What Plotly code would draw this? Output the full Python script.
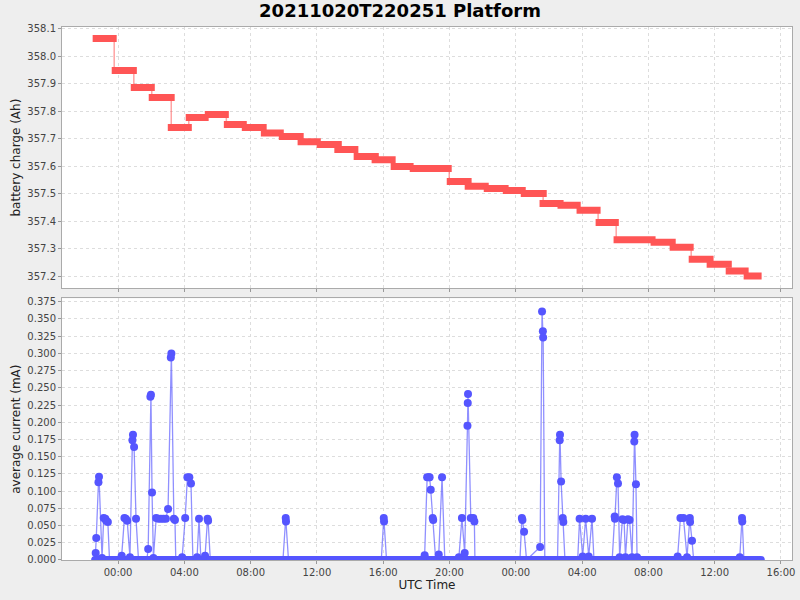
import pandas as pd
import plotly.graph_objects as go
from plotly.subplots import make_subplots

# battery charge levels (each level held between start and end)
charge_start = ["2021-10-20 22:28", "2021-10-20 23:37", "2021-10-21 00:46", "2021-10-21 01:51",
                "2021-10-21 03:00", "2021-10-21 04:05", "2021-10-21 05:14", "2021-10-21 06:23",
                "2021-10-21 07:28", "2021-10-21 08:37", "2021-10-21 09:42", "2021-10-21 10:50",
                "2021-10-21 11:59", "2021-10-21 13:03", "2021-10-21 14:13", "2021-10-21 15:18",
                "2021-10-21 16:27", "2021-10-21 17:36", "2021-10-21 19:50", "2021-10-21 20:55",
                "2021-10-21 22:04", "2021-10-21 23:13", "2021-10-22 00:18", "2021-10-22 01:26",
                "2021-10-22 02:31", "2021-10-22 03:40", "2021-10-22 04:49", "2021-10-22 05:54",
                "2021-10-22 08:08", "2021-10-22 09:17", "2021-10-22 10:26", "2021-10-22 11:31",
                "2021-10-22 12:40", "2021-10-22 13:45"]
charge_end = ["2021-10-20 23:55", "2021-10-21 01:08", "2021-10-21 02:13", "2021-10-21 03:25",
              "2021-10-21 04:27", "2021-10-21 05:28", "2021-10-21 06:41", "2021-10-21 07:46",
              "2021-10-21 08:58", "2021-10-21 10:00", "2021-10-21 11:12", "2021-10-21 12:14",
              "2021-10-21 13:30", "2021-10-21 14:30", "2021-10-21 15:44", "2021-10-21 16:45",
              "2021-10-21 17:50", "2021-10-21 20:08", "2021-10-21 21:20", "2021-10-21 22:22",
              "2021-10-21 23:34", "2021-10-22 00:36", "2021-10-22 01:52", "2021-10-22 02:53",
              "2021-10-22 03:55", "2021-10-22 05:07", "2021-10-22 06:13", "2021-10-22 08:26",
              "2021-10-22 09:39", "2021-10-22 10:44", "2021-10-22 11:56", "2021-10-22 13:02",
              "2021-10-22 14:03", "2021-10-22 14:50"]
charge_ah = [358.064, 357.948, 357.886, 357.850, 357.741, 357.777, 357.788, 357.752,
             357.741, 357.721, 357.708, 357.689, 357.679, 357.661, 357.635, 357.624,
             357.599, 357.592, 357.545, 357.527, 357.519, 357.512, 357.501, 357.465,
             357.458, 357.440, 357.396, 357.333, 357.324, 357.306, 357.262, 357.244,
             357.219, 357.201]

# average current samples
current_time = [
    "2021-10-20 22:37", "2021-10-20 22:39", "2021-10-20 22:41", "2021-10-20 22:49", "2021-10-20 22:51",
    "2021-10-20 23:02", "2021-10-20 23:08", "2021-10-20 23:14", "2021-10-20 23:17", "2021-10-20 23:23",
    "2021-10-20 23:29",
    "2021-10-21 00:10", "2021-10-21 00:13", "2021-10-21 00:23", "2021-10-21 00:28", "2021-10-21 00:33",
    "2021-10-21 00:43", "2021-10-21 00:52", "2021-10-21 00:54", "2021-10-21 00:58", "2021-10-21 01:05",
    "2021-10-21 01:14", "2021-10-21 01:44", "2021-10-21 01:49", "2021-10-21 01:57", "2021-10-21 01:59",
    "2021-10-21 02:03", "2021-10-21 02:08", "2021-10-21 02:18", "2021-10-21 02:26", "2021-10-21 02:35",
    "2021-10-21 02:44", "2021-10-21 02:53", "2021-10-21 03:01", "2021-10-21 03:11", "2021-10-21 03:13",
    "2021-10-21 03:22", "2021-10-21 03:26", "2021-10-21 03:29", "2021-10-21 03:52", "2021-10-21 04:03",
    "2021-10-21 04:11", "2021-10-21 04:18", "2021-10-21 04:24", "2021-10-21 04:31", "2021-10-21 04:46",
    "2021-10-21 04:53", "2021-10-21 05:00", "2021-10-21 05:15", "2021-10-21 05:24", "2021-10-21 05:26",
    "2021-10-21 05:34", "2021-10-21 09:57", "2021-10-21 10:07", "2021-10-21 10:08", "2021-10-21 10:17",
    "2021-10-21 15:53", "2021-10-21 16:02", "2021-10-21 16:03", "2021-10-21 16:12", "2021-10-21 18:23",
    "2021-10-21 18:30", "2021-10-21 18:39", "2021-10-21 18:45", "2021-10-21 18:48", "2021-10-21 18:52",
    "2021-10-21 18:59", "2021-10-21 19:01", "2021-10-21 19:10", "2021-10-21 19:21", "2021-10-21 19:33",
    "2021-10-21 19:43", "2021-10-21 20:34", "2021-10-21 20:45", "2021-10-21 20:55", "2021-10-21 21:05",
    "2021-10-21 21:06", "2021-10-21 21:07", "2021-10-21 21:17", "2021-10-21 21:26", "2021-10-21 21:30",
    "2021-10-21 21:32",
    "2021-10-22 00:15", "2021-10-22 00:22", "2021-10-22 00:24", "2021-10-22 00:30", "2021-10-22 00:39",
    "2021-10-22 01:28", "2021-10-22 01:35", "2021-10-22 01:38", "2021-10-22 01:39", "2021-10-22 01:45",
    "2021-10-22 02:31", "2021-10-22 02:39", "2021-10-22 02:40", "2021-10-22 02:44", "2021-10-22 02:50",
    "2021-10-22 02:52", "2021-10-22 02:58", "2021-10-22 03:44", "2021-10-22 03:51", "2021-10-22 04:02",
    "2021-10-22 04:13", "2021-10-22 04:24", "2021-10-22 04:36", "2021-10-22 04:43", "2021-10-22 05:49",
    "2021-10-22 05:58", "2021-10-22 05:59", "2021-10-22 06:06", "2021-10-22 06:10", "2021-10-22 06:16",
    "2021-10-22 06:26", "2021-10-22 06:32", "2021-10-22 06:37", "2021-10-22 06:46", "2021-10-22 06:52",
    "2021-10-22 07:01", "2021-10-22 07:09", "2021-10-22 07:10", "2021-10-22 07:15", "2021-10-22 07:19",
    "2021-10-22 09:39", "2021-10-22 09:46", "2021-10-22 09:56", "2021-10-22 10:07", "2021-10-22 10:20",
    "2021-10-22 10:30", "2021-10-22 10:31", "2021-10-22 10:38", "2021-10-22 10:44", "2021-10-22 13:31",
    "2021-10-22 13:39", "2021-10-22 13:40", "2021-10-22 13:46", "2021-10-22 14:47"]
current_ma = [
    0, 0.010, 0.032, 0.113, 0.121,
    0.003, 0.061, 0.060, 0.057, 0.055,
    0,
    0, 0.006, 0.061, 0.060, 0.057,
    0.004, 0.174, 0.182, 0.164, 0.060,
    0, 0, 0.016, 0.237, 0.240,
    0.098, 0.003, 0.061, 0.060, 0.060,
    0.060, 0.060, 0.074, 0.294, 0.300,
    0.060, 0.058, 0, 0.004, 0.061,
    0.120, 0.120, 0.111, 0, 0.004,
    0.060, 0, 0.006, 0.060, 0.057,
    0, 0, 0.061, 0.056, 0,
    0, 0.061, 0.056, 0, 0,
    0.007, 0.120, 0.120, 0.120, 0.102,
    0.061, 0.058, 0, 0.008, 0.120,
    0, 0.004, 0.061, 0.010, 0.195,
    0.228, 0.241, 0.061, 0.061, 0.056,
    0,
    0, 0.061, 0.058, 0.041, 0,
    0.019, 0.361, 0.332, 0.323, 0,
    0, 0.174, 0.182, 0.114, 0.061,
    0.055, 0, 0, 0.060, 0.005,
    0.060, 0.005, 0.060, 0, 0,
    0.063, 0.060, 0.120, 0.111, 0.004,
    0.059, 0.058, 0.004, 0.059, 0.058,
    0.004, 0.172, 0.182, 0.110, 0.004,
    0, 0.005, 0.061, 0.061, 0.004,
    0.061, 0.055, 0.028, 0, 0.004,
    0.061, 0.056, 0, 0]

RED = "#ff5555"
BLUE = "#5555ff"
FONT = "DejaVu Sans"

starts = pd.to_datetime(charge_start)
ends = pd.to_datetime(charge_end)

# thick level segments
seg_x, seg_y = [], []
for s, e, v in zip(starts, ends, charge_ah):
    seg_x += [s, e, None]
    seg_y += [v, v, None]

# thin step connectors between levels
step_x, step_y = [], []
for i in range(len(charge_ah) - 1):
    mid = starts[i + 1] + (ends[i] - starts[i + 1]) / 2
    step_x += [mid, mid, None]
    step_y += [charge_ah[i], charge_ah[i + 1], None]

fig = make_subplots(rows=2, cols=1, shared_xaxes=True)

fig.add_trace(go.Scatter(x=step_x, y=step_y, mode="lines",
                         line=dict(color="rgba(255,85,85,0.55)", width=1.5),
                         showlegend=False), row=1, col=1)
fig.add_trace(go.Scatter(x=seg_x, y=seg_y, mode="lines",
                         line=dict(color=RED, width=7),
                         showlegend=False), row=1, col=1)

cur_t = pd.to_datetime(current_time)
fig.add_trace(go.Scatter(x=[cur_t[0], cur_t[-1]], y=[0, 0], mode="lines",
                         line=dict(color=BLUE, width=8),
                         showlegend=False), row=2, col=1)
fig.add_trace(go.Scatter(x=cur_t, y=current_ma, mode="lines+markers",
                         line=dict(color="rgba(85,85,255,0.65)", width=1.3),
                         marker=dict(color=BLUE, size=8),
                         showlegend=False), row=2, col=1)

axis_style = dict(showline=True, linecolor="#aaaaaa", mirror=True, automargin=False,
                  showgrid=True, gridcolor="#dddddd", griddash="3px,3px", gridwidth=1,
                  zeroline=False, ticks="outside", ticklen=3, tickcolor="#999999",
                  tickfont=dict(family=FONT, size=10, color="#444444"))

x_range = ["2021-10-20 20:37", "2021-10-22 16:40"]
fig.update_xaxes(**axis_style, range=x_range, type="date",
                 tick0="2021-10-21 00:00", dtick=4 * 3600 * 1000, tickformat="%H:%M")
fig.update_xaxes(showticklabels=False, row=1, col=1)
fig.update_xaxes(title=dict(text="UTC Time", font=dict(family=FONT, size=12, color="#222222"),
                            standoff=3), row=2, col=1)

fig.update_yaxes(**axis_style)
fig.update_yaxes(range=[357.157, 358.106], dtick=0.1, tickformat=".1f",
                 title=dict(text="battery charge (Ah)", font=dict(family=FONT, size=12, color="#222222"),
                            standoff=4), row=1, col=1)
fig.update_yaxes(range=[0, 0.380], dtick=0.025, tickformat=".3f",
                 title=dict(text="average current (mA)", font=dict(family=FONT, size=12, color="#222222"),
                            standoff=4), row=2, col=1)

fig.update_layout(
    width=800, height=600,
    paper_bgcolor="#eeeeee", plot_bgcolor="white",
    margin=dict(l=62, r=8, t=27, b=40),
    title=dict(text="20211020T220251 Platform", x=0.5, xanchor="center", xref="container",
               y=1 - 4 / 600, yanchor="top", yref="container", pad=dict(t=0, b=0),
               font=dict(family=FONT, size=18, color="black", weight="bold")),
    yaxis=dict(domain=[0.510, 1.0]),
    yaxis2=dict(domain=[0.0, 0.491]),
    showlegend=False,
)

# page body margin would shift the 800x600 figure out of the window
fig.write_html("out.html", config={"displayModeBar": False},
               post_script="document.body.style.margin='0';")
